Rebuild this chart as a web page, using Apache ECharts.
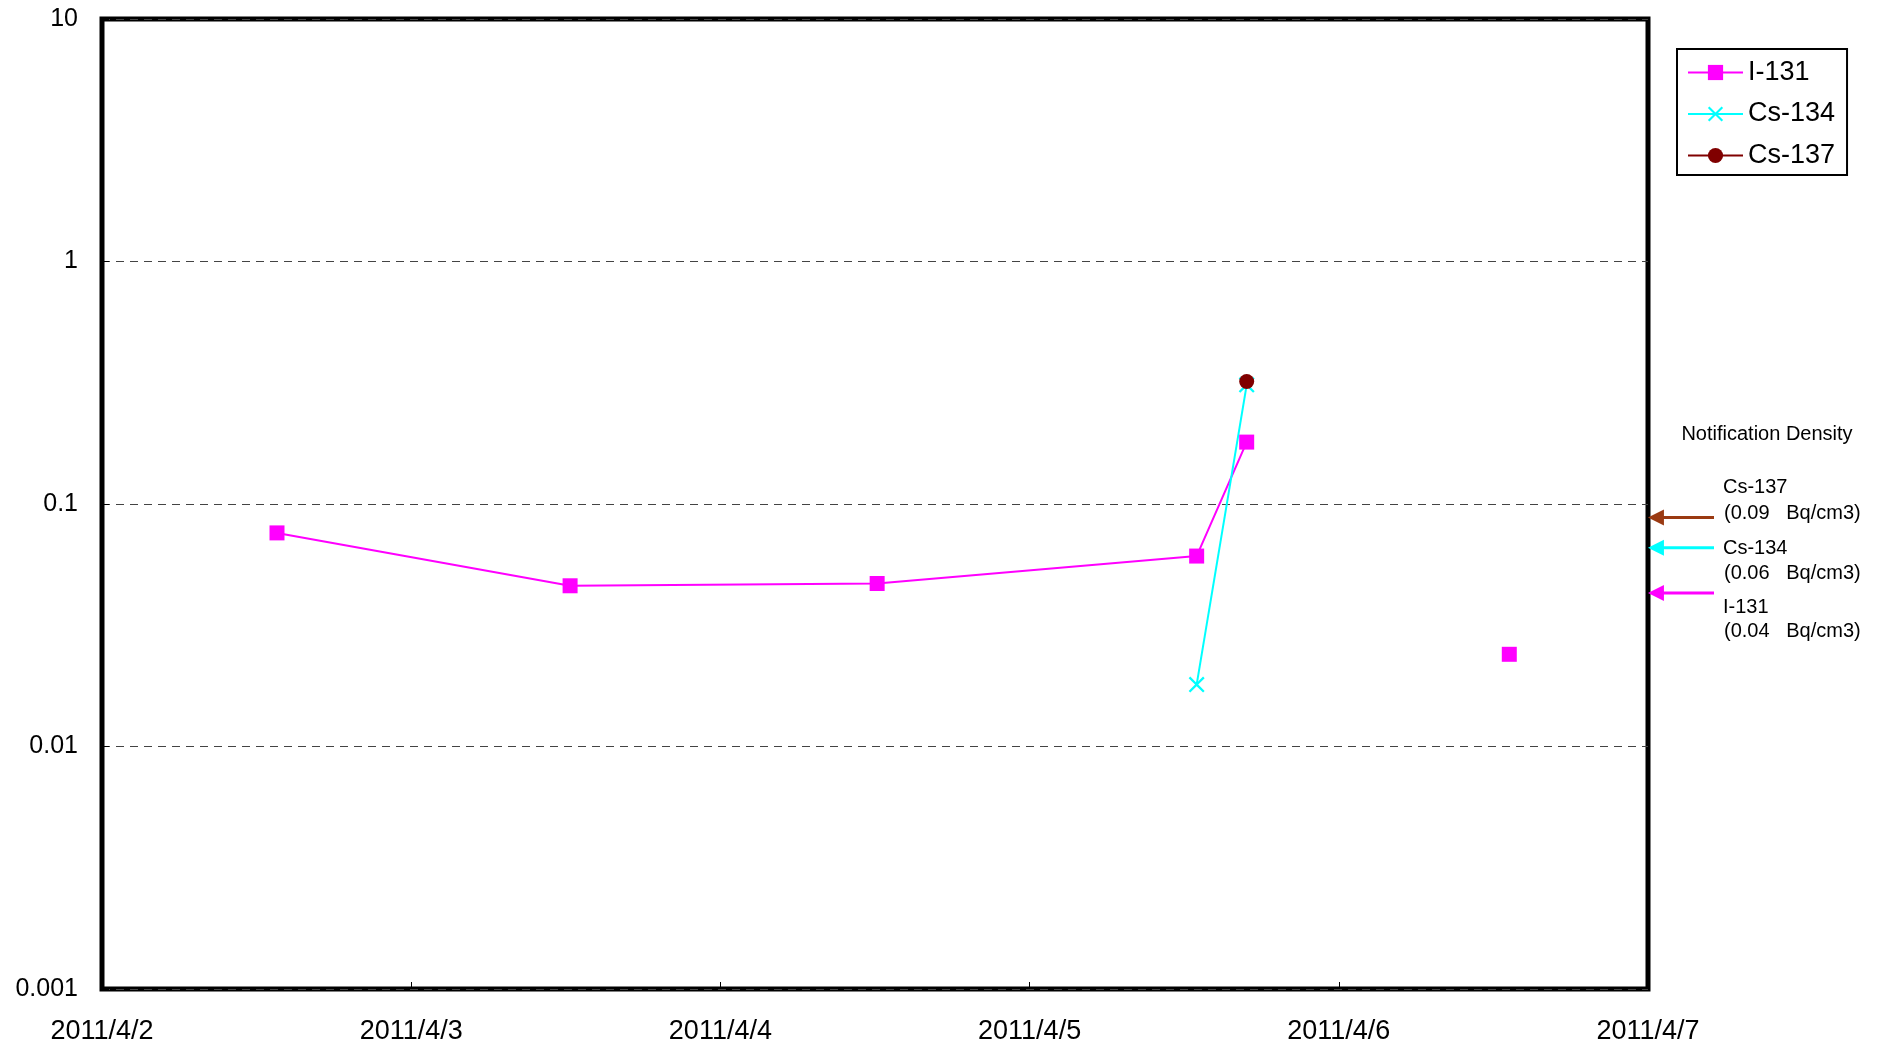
<!DOCTYPE html>
<html>
<head>
<meta charset="utf-8">
<script src="https://cdn.jsdelivr.net/npm/echarts@6/dist/echarts.min.js"></script>
<style>
html,body{margin:0;padding:0;background:#fff;}
#main{width:1888px;height:1047px;}
</style>
</head>
<body>
<div id="main"></div>
<script>
// x axis: days from 2011/4/2 to 2011/4/7
var xLabels = ['2011/4/2','2011/4/3','2011/4/4','2011/4/5','2011/4/6','2011/4/7'];
var yTicks = [0.001, 0.01, 0.1, 1, 10];

// sampling times and values (Bq/cm3); null breaks the line
var i131Times  = ['2011-04-02 13:35','2011-04-03 12:20','2011-04-04 12:10','2011-04-05 12:58','2011-04-05 16:51','2011-04-06 00:00','2011-04-06 13:14'];
var i131Values = [0.076, 0.046, 0.047, 0.061, 0.18, null, 0.024];
var cs134Times  = ['2011-04-05 12:58','2011-04-05 16:51'];
var cs134Values = [0.018, 0.31];
var cs137Times  = ['2011-04-05 16:51'];
var cs137Values = [0.32];

// notification density arrows (levels as drawn in the picture)
var limitNames  = ['Cs-137','Cs-134','I-131'];
var limitLevels = [0.088, 0.066, 0.043];
var limitTexts  = ['(0.09   Bq/cm3)','(0.06   Bq/cm3)','(0.04   Bq/cm3)'];
var limitColors = ['#9a3a12','#00ffff','#ff00ff'];

var DAY = 86400000;
var FONT = 'Liberation Sans, Arial, sans-serif';

function toMs(s){
	var p = s.split(/[- :]/);
	return Date.UTC(+p[0], +p[1]-1, +p[2], +p[3]||0, +p[4]||0);
}
function pairs(times, values){
	var out = [];
	for(var i=0;i<times.length;i++){
		out.push([toMs(times[i]), values[i]]);
	}
	return out;
}
var xMin = toMs('2011-04-02 00:00');
var xMax = toMs('2011-04-07 00:00');

var xMark = 'path://M0,1L1,0L5,4L9,0L10,1L6,5L10,9L9,10L5,6L1,10L0,9L4,5Z';

var series = [
	{
		name:'I-131', type:'line', data:pairs(i131Times, i131Values),
		symbol:'rect', symbolSize:15, color:'#ff00ff',
		lineStyle:{width:2, color:'#ff00ff'}, itemStyle:{color:'#ff00ff'}
	},
	{
		name:'Cs-134', type:'line', data:pairs(cs134Times, cs134Values),
		symbol:xMark, symbolSize:16, color:'#00ffff',
		lineStyle:{width:2, color:'#00ffff'}, itemStyle:{color:'#00ffff'}
	},
	{
		name:'Cs-137', type:'line', data:pairs(cs137Times, cs137Values),
		symbol:'circle', symbolSize:15, color:'#800000',
		lineStyle:{width:2, color:'#800000'}, itemStyle:{color:'#800000'}
	}
];

// arrows pointing at the plot edge, drawn in a thin side grid with the same log scale
for(var k=0;k<limitLevels.length;k++){
	series.push({
		name:'limit ' + limitNames[k], type:'line', xAxisIndex:1, yAxisIndex:1,
		silent:true, symbol:'triangle', symbolRotate:90, symbolSize:[16,16],
		color:limitColors[k],
		lineStyle:{width:3, color:limitColors[k]},
		itemStyle:{color:limitColors[k]},
		data:[{value:[1, limitLevels[k]], symbol:'none'}, [0.12, limitLevels[k]]]
	});
}

function label(text, x, y, align){
	return {type:'text', x:x, y:y, silent:true,
		style:{text:text, fill:'#000', font:'20px ' + FONT, align:align || 'left', verticalAlign:'middle'}};
}

var option = {
	animation:false,
	backgroundColor:'#fff',
	grid:[
		{left:102, top:19, width:1546, height:970, show:true, borderColor:'#000', borderWidth:5, backgroundColor:'#fff'},
		{left:1648, top:19, width:66, height:970, show:false}
	],
	legend:{
		data:['I-131','Cs-134','Cs-137'],
		orient:'vertical', left:1677, top:49,
		itemWidth:55, itemHeight:19, itemGap:14.5,
		padding:[10,12,6,10],
		borderColor:'#000', borderWidth:2, backgroundColor:'#fff',
		textStyle:{fontSize:27, color:'#000', fontFamily:FONT}
	},
	xAxis:[
		{
			type:'value', gridIndex:0, min:xMin, max:xMax, interval:DAY,
			axisLine:{show:false},
			axisTick:{show:true, inside:true, length:7, lineStyle:{color:'#000', width:1}},
			splitLine:{show:false},
			axisLabel:{
				fontSize:27, color:'#000', fontFamily:FONT, margin:29,
				formatter:function(v){ return xLabels[Math.round((v - xMin)/DAY)]; }
			}
		},
		{type:'value', gridIndex:1, min:0, max:1, show:false}
	],
	yAxis:[
		{
			type:'log', logBase:10, gridIndex:0, min:yTicks[0], max:yTicks[yTicks.length-1],
			axisLine:{show:false},
			axisTick:{show:true, inside:true, length:7, lineStyle:{color:'#000', width:1}},
			splitLine:{show:true, lineStyle:{type:[8,6], color:'#444', width:1}},
			axisLabel:{
				fontSize:25, color:'#000', fontFamily:FONT, margin:24,
				formatter:function(v){ return String(Number(v.toFixed(3))); }
			}
		},
		{type:'log', logBase:10, gridIndex:1, min:yTicks[0], max:yTicks[yTicks.length-1], show:false}
	],
	graphic:[
		label('Notification Density', 1767, 434, 'center'),
		label(limitNames[0], 1723, 487),
		label(limitTexts[0], 1724, 513),
		label(limitNames[1], 1723, 548),
		label(limitTexts[1], 1724, 573),
		label(limitNames[2], 1723, 607),
		label(limitTexts[2], 1724, 631)
	],
	series:series
};

var chart = echarts.init(document.getElementById('main'));
chart.setOption(option);
</script>
</body>
</html>
